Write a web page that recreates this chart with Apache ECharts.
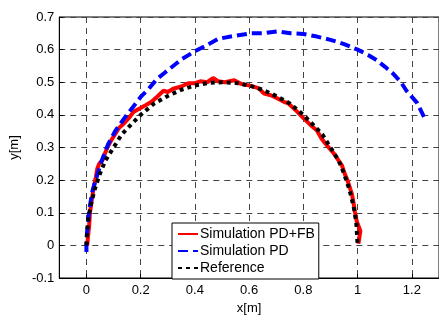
<!DOCTYPE html>
<html lang="en">
<head>
<meta charset="UTF-8">
<title>trajectory</title>
<script src="https://cdn.jsdelivr.net/npm/echarts@6/dist/echarts.min.js"></script>
<style>
  html, body { margin: 0; padding: 0; background: #fff; }
  #main { width: 439px; height: 320px; }
</style>
</head>
<body>
<div id="main"></div>
<script type="text/javascript">
// values
var xTicks = [0, 0.2, 0.4, 0.6, 0.8, 1, 1.2];

var pdfbX = [0.003,0.005,0.01,0.013,0.02,0.026,0.035,0.04,0.047,0.06,0.065,0.077,0.09,0.105,0.12,0.14,0.156,0.175,0.198,0.22,0.24,0.26,0.284,0.3,0.32,0.35,0.375,0.4,0.42,0.445,0.467,0.485,0.51,0.545,0.57,0.607,0.636,0.655,0.68,0.705,0.728,0.745,0.777,0.8,0.825,0.85,0.865,0.88,0.91,0.93,0.942,0.954,0.96,0.97,0.979,0.985,0.99,0.997,1.01,1.003];
var pdfbY = [0.0,0.02,0.06,0.10,0.14,0.175,0.21,0.235,0.25,0.262,0.275,0.30,0.32,0.34,0.36,0.375,0.39,0.41,0.42,0.43,0.44,0.455,0.474,0.47,0.48,0.487,0.497,0.497,0.503,0.5,0.513,0.503,0.5,0.506,0.495,0.489,0.481,0.465,0.46,0.45,0.44,0.435,0.41,0.39,0.37,0.352,0.33,0.313,0.284,0.26,0.245,0.216,0.205,0.18,0.157,0.13,0.103,0.073,0.044,0.005];

var pdX = [0,0,0.007,0.012,0.022,0.04,0.058,0.08,0.106,0.14,0.168,0.2,0.23,0.26,0.29,0.32,0.35,0.4,0.44,0.486,0.55,0.607,0.65,0.705,0.753,0.8,0.85,0.9,0.95,1.0,1.04,1.07,1.1,1.13,1.16,1.18,1.2,1.22,1.247];
var pdY = [-0.02,0.02,0.08,0.117,0.166,0.216,0.263,0.31,0.35,0.39,0.42,0.455,0.48,0.51,0.53,0.55,0.57,0.595,0.612,0.633,0.643,0.65,0.65,0.656,0.65,0.648,0.64,0.63,0.617,0.6,0.583,0.568,0.548,0.527,0.5,0.474,0.455,0.436,0.39];

var refX = [0,0.005,0.015,0.03,0.05,0.07,0.1,0.13,0.17,0.2,0.25,0.3,0.35,0.4,0.45,0.5,0.55,0.6,0.65,0.7,0.75,0.8,0.83,0.87,0.9,0.93,0.95,0.97,0.985,0.995,1.0];
var refY = [0,0.07,0.12,0.17,0.22,0.26,0.3,0.34,0.375,0.4,0.435,0.458,0.477,0.49,0.498,0.5,0.498,0.49,0.477,0.458,0.435,0.4,0.375,0.34,0.3,0.26,0.22,0.17,0.12,0.07,0.0];

function pairs(xs, ys) {
    var out = [];
    for (var i = 0; i < xs.length; i++) {
        out.push([xs[i], ys[i]]);
    }
    return out;
}

var font = "'Liberation Sans', Arial, sans-serif";
var myChart = echarts.init(document.getElementById('main'));
myChart.setOption({
    animation: false,
    grid: {
        left: 57, top: 17, width: 383, height: 273,
        show: true, borderColor: '#000', borderWidth: 1
    },
    legend: {
        orient: 'vertical',
        left: 172, top: 223,
        padding: [4, 4, 4, 5],
        itemGap: 3,
        itemWidth: 20,
        itemHeight: 14,
        backgroundColor: '#fff',
        borderColor: '#000',
        borderWidth: 1,
        borderRadius: 0,
        itemStyle: { opacity: 0 },
        textStyle: { fontFamily: font, fontSize: 14, color: '#000', padding: [0, 0, 0, -3] },
        data: ['Simulation PD+FB', 'Simulation PD', 'Reference']
    },
    xAxis: {
        type: 'value',
        min: -0.1, max: 1.3,
        name: 'x[m]',
        nameLocation: 'middle',
        nameGap: 24,
        nameTextStyle: { fontFamily: font, fontSize: 13, color: '#000' },
        axisLine: { onZero: false, lineStyle: { color: '#000', width: 1 } },
        axisTick: { inside: true, length: 4, lineStyle: { color: '#000' }, customValues: xTicks },
        axisLabel: { fontFamily: font, fontSize: 13, color: '#000', margin: 6, customValues: xTicks },
        splitLine: { show: true, lineStyle: { color: '#444', type: [6, 5], width: 1 } }
    },
    yAxis: {
        type: 'value',
        min: -0.1, max: 0.7, interval: 0.1,
        name: 'y[m]',
        nameLocation: 'middle',
        nameGap: 34,
        nameTextStyle: { fontFamily: font, fontSize: 13, color: '#000' },
        axisLine: { show: true, onZero: false, lineStyle: { color: '#000', width: 1 } },
        axisTick: { show: true, inside: true, length: 4, lineStyle: { color: '#000' } },
        axisLabel: { fontFamily: font, fontSize: 13, color: '#000', margin: 5 },
        splitLine: { show: true, lineStyle: { color: '#444', type: [6, 5], width: 1 } }
    },
    series: [
        {
            name: 'Simulation PD+FB',
            type: 'line',
            symbol: 'none',
            color: '#ff0000',
            lineStyle: { color: '#ff0000', width: 4, type: 'solid' },
            data: pairs(pdfbX, pdfbY)
        },
        {
            name: 'Simulation PD',
            type: 'line',
            symbol: 'none',
            color: '#0000ff',
            lineStyle: { color: '#0000ff', width: 4, type: [10, 5], cap: 'butt' },
            data: pairs(pdX, pdY)
        },
        {
            name: 'Reference',
            type: 'line',
            symbol: 'none',
            color: '#000',
            lineStyle: { color: '#000', width: 4, type: [4, 4], cap: 'butt' },
            data: pairs(refX, refY)
        }
    ]
});
</script>
</body>
</html>
